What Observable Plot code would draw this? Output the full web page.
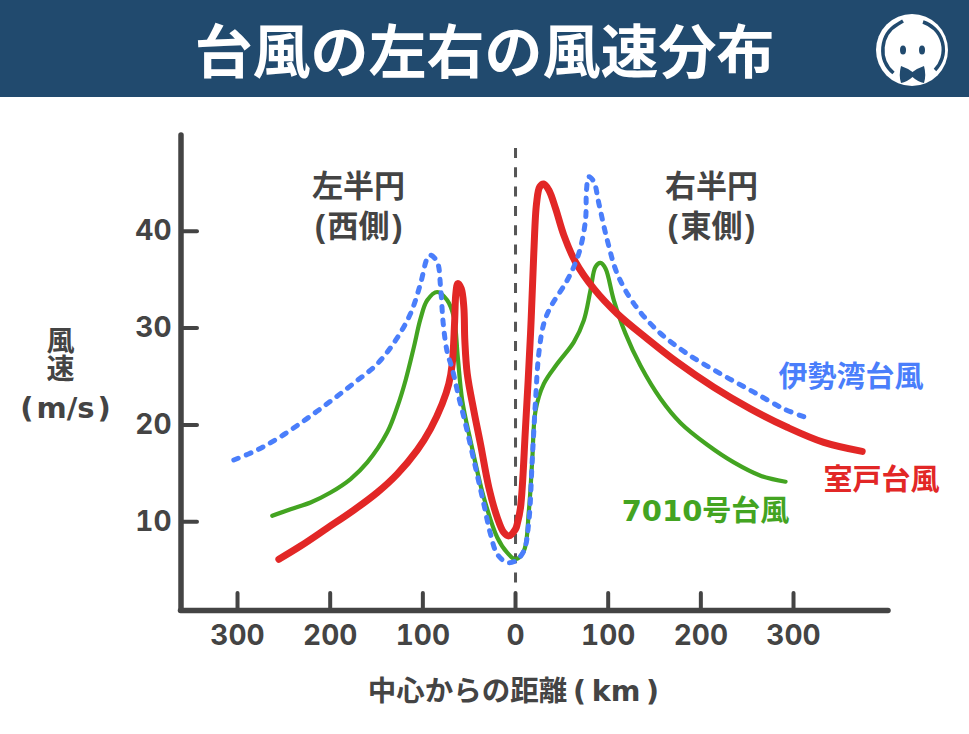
<!DOCTYPE html>
<html lang="ja">
<head>
<meta charset="utf-8">
<script src="https://cdn.jsdelivr.net/npm/d3@7"></script>
<script src="https://cdn.jsdelivr.net/npm/@observablehq/plot@0.6"></script>
<style>
html,body{margin:0;padding:0;background:#fff;}
#wrap{width:969px;overflow:hidden;}
#banner{position:relative;height:97px;background:#214a6e;overflow:hidden;}
#banner h1{position:absolute;left:0;top:0;width:969px;margin:0;text-align:center;line-height:97px;
 font-family:"Noto Sans CJK JP",sans-serif;font-weight:700;font-size:58px;color:#fff;}
#logo{position:absolute;left:870px;top:5px;}
#chart svg{display:block;}
</style>
</head>
<body>
<div id="wrap">
<div id="banner"><h1>台風の左右の風速分布</h1>
<svg id="logo" width="86" height="86" viewBox="0 0 86 86">
<circle cx="42" cy="45" r="36" fill="#fff"/>
<path d="M23.5 68 A30 30 0 0 1 28 19 L33 16" fill="none" stroke="#214a6e" stroke-width="3.5"/>
<path d="M53 17 A29 29 0 0 1 65 65" fill="none" stroke="#214a6e" stroke-width="3.5"/>
<ellipse cx="33" cy="45" rx="3" ry="4.6" fill="#214a6e"/>
<ellipse cx="52" cy="45" rx="3" ry="4.6" fill="#214a6e"/>
<path d="M31 61 Q37 63 42.5 67 Q48 63 54 61 Q56.5 70 54 78 Q48 77 42.5 72 Q37 77 31 78 Q28.5 70 31 61Z" fill="#214a6e"/>
</svg>
</div>
<div id="chart"></div>
</div>
<script>
const gray = "#444444";
const jp = '"Noto Sans CJK JP",sans-serif';
const mixed = '"DejaVu Sans","Noto Sans CJK JP",sans-serif';
const tight = '"Liberation Sans","Noto Sans CJK JP",sans-serif';

const xTickValues = [-300, -200, -100, 0, 100, 200, 300];
const yTickValues = [10, 20, 30, 40];

const seriesNames = ["伊勢湾台風", "室戸台風", "7010号台風"];
const sideLabels = ["左半円\n(\u200A西側\u200A)", "右半円\n(\u200A東側\u200A)"];

const isewanX = [-304,-278.7,-253.6,-226.6,-199.6,-174.5,-149.2,-129.5,-113.3,-102.5,-95.3,-91.7,-84.5,-80.9,-78,-73.7,-68.3,-61.2,-54,-43.2,-34.2,-27,-19.7,-9,0,9,14.4,18,21.6,25.1,30.5,37.8,55.8,68.3,75.5,76.6,79.1,84.5,89.9,99,109.7,127.7,152.9,185.3,221.2,257.2,289.5,312.9];
const isewanY = [16.38,17.42,18.79,20.55,22.45,24.31,26.3,28.72,31.49,34.59,37.18,37.52,36.82,34.24,30.45,27.51,25.8,22.86,20.11,15.62,11.83,8.73,6.66,5.79,5.97,7,10.1,16.31,22.52,27.35,30.45,32.17,34.93,37.69,41.14,44.24,45.62,45.1,42.87,39.07,35.62,32.52,29.76,27.35,25.28,23.38,21.66,20.79];

const muroX = [-255.4,-232,-203.2,-174.5,-149.2,-127.7,-106.1,-91.7,-79.1,-72,-68.3,-65.8,-64.4,-62.3,-58.6,-55.8,-54.7,-52.1,-45,-37.8,-28.8,-19.7,-12.6,-7.2,0,1.8,5.4,10.8,16.2,19.7,22.7,26.2,30.5,35.9,43.2,52.1,64.7,84.5,109.7,142.1,174.5,214,253.6,293.2,332.7,374.1];
const muroY = [6.14,7.5,9.35,11.21,13.03,14.93,17.4,19.6,22.18,24.24,26.31,30.45,33.56,34.59,34.07,32.17,28.72,25.28,21.48,18.04,13.55,10.44,8.89,8.55,9.24,9.76,11.48,19.76,29.42,37.69,42.87,44.58,44.86,44.24,42.35,39.59,36.82,34.07,31.49,28.9,26.48,23.89,21.66,19.76,18.2,17.27];

const t7010X = [-262.5,-242.8,-221.2,-199.6,-178,-160,-138.4,-127.7,-118.7,-109.7,-102.5,-95.3,-84.5,-73.7,-66.6,-62.3,-57.5,-48.6,-34.2,-19.7,-9,0,9,14.4,18,21.6,30.5,45,62.9,73.7,80.9,86.3,91.7,97.1,106.1,118.7,134.9,156.5,178.1,206.9,235.6,264.4,291.4];
const t7010Y = [10.62,11.31,12,13.03,14.42,16.13,19.24,21.82,24.59,28.03,30.97,32.86,33.72,32.86,31.14,27,22.52,18.38,12.51,8.38,6.82,6.14,7,11.14,16.31,21.48,24.24,26.31,28.55,30.79,33.9,36.31,36.72,36.14,32.86,29.42,26.1,22.7,20.2,17.95,16.13,14.76,14.14];

const zip = (xs, ys) => xs.map((x, i) => ({x, y: ys[i]}));
const xMin = -361, xMax = 402.5, yMin = 0.85, yMax = 49.87;

const curveOpts = {x: "x", y: "y", curve: "catmull-rom", strokeLinecap: "round", strokeLinejoin: "round"};

const plot = Plot.plot({
  width: 969,
  height: 637,
  marginLeft: 181, marginRight: 81, marginTop: 38, marginBottom: 124,
  style: {background: "#fff", overflow: "visible"},
  x: {domain: [xMin, xMax], range: [180.5, 888]},
  y: {domain: [yMin, yMax], range: [513, 38]},
  marks: [
    Plot.ruleX([0], {y1: 48.53, y2: 3.66, stroke: "#555", strokeWidth: 3, strokeDasharray: "10 9.3"}),
    Plot.axisX(xTickValues, {anchor: "bottom", tickSize: -17, tickPadding: 32, strokeWidth: 4, strokeLinecap: "round", color: gray,
      tickFormat: d => Math.abs(d), label: null, fontFamily: "Inter", fontWeight: 700, fontSize: 28}),
    Plot.axisY(yTickValues, {anchor: "left", tickSize: -16, tickPadding: 26, strokeWidth: 4, strokeLinecap: "round", color: gray,
      label: null, fontFamily: "Inter", fontWeight: 700, fontSize: 28}),
    Plot.ruleX([xMin], {y1: yMin, y2: yMax, stroke: gray, strokeWidth: 5.5, strokeLinecap: "round"}),
    Plot.ruleY([yMin], {x1: xMin, x2: xMax, stroke: gray, strokeWidth: 5.5, strokeLinecap: "round"}),
    Plot.line(zip(t7010X, t7010Y), {...curveOpts, stroke: "#43a421", strokeWidth: 4.2}),
    Plot.line(zip(muroX, muroY), {...curveOpts, stroke: "#e22726", strokeWidth: 7}),
    Plot.line(zip(isewanX, isewanY), {...curveOpts, stroke: "#4a7efb", strokeWidth: 5, strokeDasharray: "5 8.5"}),
    Plot.text([sideLabels[0]], {x: -169.4, y: 42.75, text: d => d, fontFamily: tight, fontWeight: 700, fontSize: 31, fill: gray, lineHeight: 1.29}),
    Plot.text([sideLabels[1]], {x: 211.5, y: 42.75, text: d => d, fontFamily: tight, fontWeight: 700, fontSize: 31, fill: gray, lineHeight: 1.29}),
    Plot.text([seriesNames[0]], {x: 362, y: 24.9, text: d => d, fontFamily: jp, fontWeight: 700, fontSize: 29, fill: "#4a7efb"}),
    Plot.text([seriesNames[1]], {x: 395, y: 14.2, text: d => d, fontFamily: jp, fontWeight: 700, fontSize: 29, fill: "#e22726"}),
    Plot.text([seriesNames[2]], {x: 205, y: 11.08, text: d => d, fontFamily: mixed, fontWeight: 700, fontSize: 29, fill: "#43a421"}),
    Plot.text(["風速"], {x: -491, y: 28.2, text: d => d, fontFamily: jp, fontWeight: 700, fontSize: 28, fill: gray, className: "vertical-label"}),
    Plot.text(["(\u200Am/s\u200A)"], {x: -485.6, y: 21.7, text: d => d, fontFamily: mixed, fontWeight: 700, fontSize: 29, fill: gray}),
    Plot.text(["中心からの距離\u2009(\u2009km\u2009)"], {x: -2.2, y: -7.5, text: d => d, fontFamily: mixed, fontWeight: 700, fontSize: 28.5, fill: gray})
  ]
});
plot.querySelectorAll(".vertical-label text").forEach(t => {
  t.setAttribute("writing-mode", "vertical-rl");
  t.removeAttribute("dy");
});
document.getElementById("chart").appendChild(plot);
</script>
</body>
</html>
